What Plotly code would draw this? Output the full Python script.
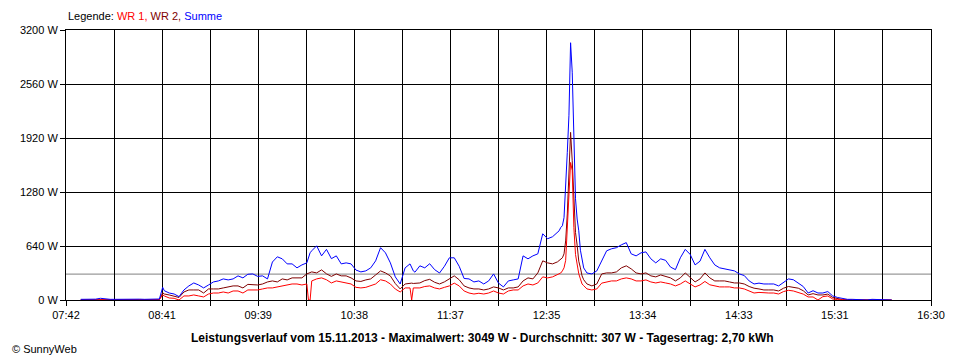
import plotly.graph_objects as go

# ---- data ----
times = ["07:51","07:54","07:57","08:00","08:03","08:06","08:09","08:12","08:15","08:18",
         "08:21","08:24","08:27","08:30","08:33","08:36","08:39","08:41","08:42","08:45",
         "08:48","08:51","08:54","08:57","09:00","09:03","09:06","09:09","09:12","09:15",
         "09:18","09:21","09:24","09:27","09:30","09:33","09:36","09:39","09:42","09:45",
         "09:48","09:51","09:54","09:57","10:00","10:03","10:06","10:09","10:10","10:11",
         "10:12","10:15","10:18","10:21","10:24","10:27","10:30","10:33","10:36","10:39",
         "10:42","10:45","10:48","10:51","10:54","10:57","11:00","11:03","11:06","11:09",
         "11:12","11:13","11:14","11:15","11:18","11:21","11:24","11:27","11:30","11:33",
         "11:36","11:39","11:42","11:45","11:48","11:51","11:54","11:57","12:00","12:03",
         "12:06","12:09","12:12","12:15","12:18","12:21","12:24","12:27","12:30","12:33",
         "12:36","12:39","12:42","12:43","12:44","12:45","12:46","12:47","12:48","12:49",
         "12:50","12:51","12:52","12:53","12:54","12:55","12:56","12:57","12:58","13:00",
         "13:03","13:06","13:09","13:12","13:15","13:18","13:21","13:24","13:27","13:30",
         "13:33","13:36","13:39","13:42","13:45","13:48","13:51","13:54","13:57","14:00",
         "14:03","14:06","14:09","14:12","14:15","14:18","14:21","14:24","14:27","14:30",
         "14:33","14:36","14:39","14:42","14:45","14:48","14:51","14:54","14:57","15:00",
         "15:03","15:06","15:09","15:12","15:15","15:18","15:21","15:24","15:27","15:30",
         "15:33","15:36","15:39","15:42","15:45","15:48","15:51","15:54","15:57","16:00",
         "16:03","16:06"]

summe = [8,8,10,10,20,12,8,8,10,10,
         8,14,10,8,10,12,12,150,110,83,
         71,40,119,167,202,178,143,178,214,226,
         250,238,250,286,262,305,309,280,286,250,
         450,512,488,428,428,381,416,440,500,560,
         583,642,523,600,490,523,428,440,428,355,
         333,345,381,464,620,559,440,274,190,381,
         428,380,345,330,405,381,430,360,320,400,
         500,500,400,255,250,214,226,190,226,309,
         200,155,226,238,250,523,488,523,547,785,
         726,750,797,820,860,880,976,1300,1750,2190,
         3049,2700,1892,1200,960,820,590,464,380,320,
         309,345,460,583,607,620,654,680,547,523,
         559,570,488,440,488,470,390,360,500,600,
         540,416,460,600,500,416,381,369,357,345,
         309,290,226,190,200,190,190,190,167,210,
         250,240,200,160,83,110,83,83,100,48,
         30,15,8,8,6,0,0,8,8,8,
         6,0]

wr2 = [3,3,4,4,8,5,3,3,4,4,
       3,6,4,3,4,5,5,85,71,60,
       48,30,95,119,119,119,83,131,131,131,
       143,155,167,167,143,185,178,178,190,214,
       226,214,250,238,262,262,262,309,320,330,
       333,321,357,310,280,309,286,286,262,226,
       220,238,250,297,345,321,285,195,131,190,
       202,200,196,196,202,230,245,210,190,215,
       250,286,240,167,143,131,131,119,131,155,
       143,119,143,143,155,226,262,250,321,464,
       440,428,452,470,480,500,547,700,1020,1510,
       1987,1650,1213,800,650,460,381,286,240,190,
       167,190,309,321,321,333,381,405,369,321,
       309,321,286,274,297,280,262,226,262,321,
       262,214,250,321,262,226,226,226,214,202,
       202,190,160,140,131,119,119,119,107,140,
       160,150,140,110,60,75,60,60,70,30,
       15,5,3,2,2,0,0,2,2,2,
       2,0]

wr1 = [2,2,3,3,6,4,2,2,3,3,
       2,4,3,2,3,4,4,60,48,24,
       20,0,48,48,60,48,36,71,83,83,
       95,83,107,107,83,119,119,119,131,143,
       143,155,167,178,190,190,178,190,0,0,
       226,250,262,240,202,226,214,202,190,150,
       143,150,167,190,240,226,190,130,95,143,
       143,0,143,143,143,160,167,143,131,150,
       167,200,167,107,83,71,80,71,83,107,
       83,71,107,119,119,167,190,178,202,274,
       262,274,297,309,320,345,381,470,900,1380,
       1630,1535,857,540,420,310,250,190,170,131,
       119,131,200,214,226,226,250,262,250,226,
       226,238,214,202,214,202,190,167,190,226,
       190,155,178,220,180,167,155,155,155,143,
       143,131,110,83,90,83,83,83,71,100,
       115,107,90,70,36,36,0,40,48,12,
       5,0,0,0,0,0,0,0,0,0,
       0,0]

average_w = 307
y_ticks = [0, 640, 1280, 1920, 2560, 3200]
x_tick_labels = ["07:42", "08:41", "09:39", "10:38", "11:37",
                 "12:35", "13:34", "14:33", "15:31", "16:30"]
x_start, x_end = "07:42", "16:30"
title_text = ("Leistungsverlauf vom 15.11.2013 - Maximalwert: 3049 W - "
              "Durchschnitt: 307 W - Tagesertrag: 2,70 kWh")


def to_min(s):
    h, m = s.split(":")
    return int(h) * 60 + int(m)


xs = [to_min(t) for t in times]
x0, x1 = to_min(x_start), to_min(x_end)
n_grid = 2 * (len(x_tick_labels) - 1)
grid_vals = [x0 + i * (x1 - x0) / n_grid for i in range(n_grid + 1)]
grid_text = [x_tick_labels[i // 2] if i % 2 == 0 else "" for i in range(n_grid + 1)]

FONT = "Liberation Sans, Arial, sans-serif"

fig = go.Figure()
fig.add_trace(go.Scatter(x=xs, y=wr2, mode="lines", name="WR 2",
                         line=dict(color="#800000", width=1)))
fig.add_trace(go.Scatter(x=xs, y=wr1, mode="lines", name="WR 1",
                         line=dict(color="#FF0000", width=1)))
fig.add_trace(go.Scatter(x=xs, y=summe, mode="lines", name="Summe",
                         line=dict(color="#0000FF", width=1)))

fig.add_shape(type="line", xref="paper", x0=0, x1=1, yref="y",
              y0=average_w, y1=average_w, line=dict(color="#808080", width=1),
              layer="below")

# page body has an 8px margin: figure is sized/offset to compensate
fig.update_layout(
    width=952, height=352,
    margin=dict(l=52, r=29, t=22, b=60),
    paper_bgcolor="white", plot_bgcolor="white",
    showlegend=False,
    font=dict(family=FONT, size=11, color="black"),
    xaxis=dict(range=[x0, x1], tickmode="array", tickvals=grid_vals,
               ticktext=grid_text, showgrid=True, gridcolor="black",
               gridwidth=1, showline=True, linecolor="black", linewidth=1,
               mirror=True, ticks="outside", ticklen=5, tickcolor="black",
               zeroline=False, layer="above traces",
               tickfont=dict(family=FONT, size=11)),
    yaxis=dict(range=[0, 3200], tickmode="array", tickvals=y_ticks,
               ticktext=[f"{v} W" for v in y_ticks], showgrid=True,
               gridcolor="black", gridwidth=1, showline=True,
               linecolor="black", linewidth=1, mirror=True, ticks="outside",
               ticklen=5, tickcolor="black", zeroline=False,
               layer="above traces", tickfont=dict(family=FONT, size=11)),
)

fig.add_annotation(xref="paper", yref="paper", x=0, y=(300 - 16) / 270,
                   xanchor="left", yanchor="middle", showarrow=False,
                   text=("Legende: <span style='color:#FF0000'>WR 1,</span> "
                         "<span style='color:#800000'>WR 2,</span> "
                         "<span style='color:#0000FF'>Summe</span>"),
                   font=dict(family=FONT, size=11, color="black"))
fig.add_annotation(xref="paper", yref="paper", x=(479 - 60) / 871,
                   y=(300 - 338) / 270, xanchor="center", yanchor="middle",
                   showarrow=False, text="<b>" + title_text + "</b>",
                   font=dict(family=FONT, size=12, color="black"))
fig.add_annotation(xref="paper", yref="paper", x=(4 - 60) / 871,
                   y=(300 - 349) / 270, xanchor="left", yanchor="middle",
                   showarrow=False, text="© SunnyWeb",
                   font=dict(family=FONT, size=11, color="black"))

fig.write_html("out.html")
